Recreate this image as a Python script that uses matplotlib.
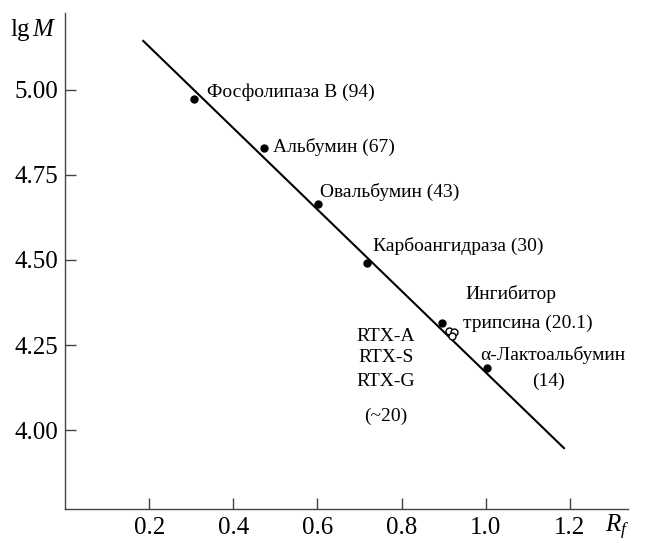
import matplotlib
matplotlib.use("Agg")
import matplotlib.pyplot as plt

plt.rcParams['font.family'] = ['Liberation Serif', 'DejaVu Serif']
plt.rcParams['mathtext.fontset'] = 'custom'
plt.rcParams['mathtext.rm'] = 'Liberation Serif'
plt.rcParams['mathtext.it'] = 'Liberation Serif:italic'

# marker proteins: Rf and lg M
rf = [0.307, 0.474, 0.602, 0.717, 0.895, 1.002]
lgm = [4.974, 4.829, 4.665, 4.491, 4.315, 4.182]

# RTX-A, RTX-S, RTX-G (open circles)
rtx_rf = [0.912, 0.924, 0.919]
rtx_lgm = [4.291, 4.288, 4.276]

# calibration line
line_rf = [0.186, 1.186]
line_lgm = [5.144, 3.947]

xticks = [0.2, 0.4, 0.6, 0.8, 1.0, 1.2]
yticks = [4.00, 4.25, 4.50, 4.75, 5.00]

fig = plt.figure(figsize=(6.48, 5.43), dpi=100)
ax = fig.add_axes([0.1003, 0.0626, 0.8687, 0.9134])

ax.plot(line_rf, line_lgm, color='black', lw=1.5)
ax.plot(rf, lgm, 'o', color='black', ms=5)
ax.plot(rtx_rf, rtx_lgm, 'o', mfc='white', mec='black', mew=1.0, ms=5)

ax.set_xlim(0, 1.338)
ax.set_ylim(3.768, 5.226)
ax.spines['top'].set_visible(False)
ax.spines['right'].set_visible(False)
for s in ('left', 'bottom'):
    ax.spines[s].set_color('#444444')
    ax.spines[s].set_linewidth(1.0)

ax.set_xticks(xticks)
ax.set_xticklabels([f'{v:.1f}' for v in xticks])
ax.set_yticks(yticks)
ax.set_yticklabels([f'{v:.2f}' for v in yticks])
ax.tick_params(direction='in', length=8, width=1.0, color='#444444',
               labelsize=18, pad=6)
ax.tick_params(axis='y', pad=5)

fs = 14
ax.text(0.338, 4.994, 'Фосфолипаза В (94)', fontsize=fs, va='center')
ax.text(0.495, 4.832, 'Альбумин (67)', fontsize=fs, va='center')
ax.text(0.605, 4.700, 'Овальбумин (43)', fontsize=fs, va='center')
ax.text(0.731, 4.541, 'Карбоангидраза (30)', fontsize=fs, va='center')
ax.text(0.952, 4.400, 'Ингибитор', fontsize=fs, va='center')
ax.text(0.945, 4.315, 'трипсина (20.1)', fontsize=fs, va='center')
ax.text(0.988, 4.221, 'α-Лактоальбумин', fontsize=fs, va='center')
ax.text(1.150, 4.144, '(14)', fontsize=fs, va='center', ha='center')
ax.text(0.762, 4.274, 'RTX-A', fontsize=fs, va='center', ha='center')
ax.text(0.762, 4.212, 'RTX-S', fontsize=fs, va='center', ha='center')
ax.text(0.762, 4.144, 'RTX-G', fontsize=fs, va='center', ha='center')
ax.text(0.762, 4.041, '(~20)', fontsize=fs, va='center', ha='center')

fig.text(10 / 648, 1 - 30 / 543, r'$\mathrm{lg}\,M$', fontsize=18, va='center')
fig.text(617 / 648, 1 - 527 / 543, r'$R_f$', fontsize=18, va='center', ha='center')

fig.savefig('out.png', dpi=100)
